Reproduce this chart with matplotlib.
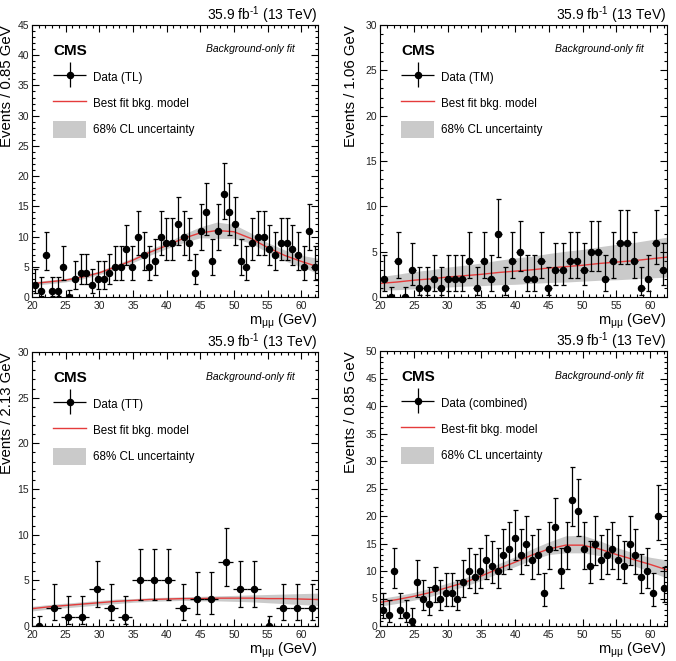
import math
import numpy as np
import matplotlib
matplotlib.use("Agg")
import matplotlib.pyplot as plt
from matplotlib.patches import Patch
from matplotlib.lines import Line2D
from matplotlib.container import ErrorbarContainer
from matplotlib.legend_handler import HandlerErrorbar
from matplotlib.ticker import MultipleLocator

plt.rcParams['font.family'] = ['Liberation Sans', 'DejaVu Sans']
plt.rcParams['mathtext.fontset'] = 'custom'
plt.rcParams['mathtext.rm'] = 'Liberation Sans'
plt.rcParams['mathtext.it'] = 'Liberation Sans:italic'

# ---- data ----
tl_counts = [2, 1, 7, 1, 1, 5, 0, 3, 4, 4, 2, 3, 3, 4, 5, 5, 8, 5, 10, 7,
             5, 6, 10, 9, 9, 12, 10, 9, 4, 11, 14, 6, 11, 17, 14, 12, 6, 5, 9, 10,
             10, 8, 7, 9, 9, 8, 7, 5, 11, 5]
tm_counts = [2, 0, 4, 0, 3, 1, 1, 2, 1, 2, 2, 2, 4, 1, 4, 2, 7, 1, 4, 5,
             2, 2, 4, 1, 3, 3, 4, 4, 3, 5, 5, 2, 4, 6, 6, 4, 1, 2, 6, 3]
tt_counts = [0, 2, 1, 1, 4, 2, 1, 5, 5, 5, 2, 3, 3, 7, 4, 4, 0, 2, 2, 2]
comb_counts = [3, 2, 10, 3, 2, 1, 8, 5, 4, 7, 5, 6, 6, 5, 8, 10, 9, 10, 12, 11,
               10, 13, 14, 16, 13, 15, 12, 13, 6, 14, 18, 10, 14, 23, 21, 14, 11, 15, 12, 13,
               14, 12, 11, 15, 13, 9, 10, 6, 20, 7]
bin_widths = [0.85, 1.06, 2.13, 0.85]

fit_x = [20, 22.5, 25, 27.5, 30, 32.5, 35, 37.5, 40, 42.5, 45, 47.5, 50, 52.5, 55, 57.5, 60, 62.5]

tl_fit = [2.2, 2.5, 2.8, 3.3, 4.0, 5.0, 6.1, 7.4, 8.5, 9.7, 10.6, 11.0, 10.8, 9.7, 8.2, 6.9, 5.9, 5.0]
tl_lo = [1.9, 2.2, 2.5, 3.0, 3.7, 4.6, 5.7, 6.9, 8.0, 9.0, 9.8, 9.7, 9.7, 8.9, 7.4, 6.0, 5.0, 3.9]
tl_hi = [2.5, 2.8, 3.1, 3.6, 4.3, 5.4, 6.5, 7.9, 9.0, 10.4, 11.6, 12.4, 12.0, 10.6, 9.0, 7.8, 6.9, 6.4]

tm_fit = [1.5, 1.65, 1.85, 2.0, 2.2, 2.35, 2.5, 2.7, 2.85, 3.0, 3.2, 3.35, 3.5, 3.7, 3.85, 4.0, 4.2, 4.4]
tm_lo = [0.75, 0.8, 0.9, 1.0, 1.1, 1.2, 1.25, 1.35, 1.4, 1.5, 1.6, 1.65, 1.75, 1.85, 1.9, 2.0, 2.1, 2.2]
tm_hi = [2.25, 2.5, 2.8, 3.0, 3.3, 3.5, 3.75, 4.05, 4.3, 4.5, 4.8, 5.05, 5.25, 5.55, 5.8, 6.0, 6.3, 6.6]

tt_fit = [1.9, 2.1, 2.25, 2.4, 2.55, 2.7, 2.8, 2.9, 2.95, 3.0, 3.0, 3.05, 3.05, 3.05, 3.0, 3.0, 2.95, 2.9]
tt_lo = [1.65, 1.85, 2.0, 2.15, 2.3, 2.45, 2.6, 2.7, 2.75, 2.8, 2.75, 2.75, 2.7, 2.65, 2.55, 2.45, 2.35, 2.25]
tt_hi = [2.15, 2.35, 2.5, 2.65, 2.8, 2.95, 3.0, 3.1, 3.15, 3.2, 3.25, 3.3, 3.35, 3.4, 3.45, 3.5, 3.55, 3.6]

comb_fit = [4.3, 4.8, 5.4, 6.1, 7.0, 7.9, 9.1, 10.4, 11.6, 12.9, 14.0, 14.7, 14.7, 14.0, 13.0, 12.1, 11.2, 10.2]
comb_lo = [3.6, 4.1, 4.7, 5.4, 6.3, 7.2, 8.3, 9.6, 10.8, 12.0, 13.0, 13.3, 13.3, 12.8, 12.0, 11.0, 9.9, 8.7]
comb_hi = [5.0, 5.5, 6.1, 6.9, 7.8, 8.7, 9.9, 11.3, 12.6, 14.0, 15.3, 16.4, 16.5, 15.5, 14.3, 13.3, 12.5, 12.0]

panels = [
    ("TL", tl_counts, tl_fit, tl_lo, tl_hi, 45, "Events / 0.85 GeV", "Data (TL)", "Best fit bkg. model"),
    ("TM", tm_counts, tm_fit, tm_lo, tm_hi, 30, "Events / 1.06 GeV", "Data (TM)", "Best fit bkg. model"),
    ("TT", tt_counts, tt_fit, tt_lo, tt_hi, 30, "Events / 2.13 GeV", "Data (TT)", "Best fit bkg. model"),
    ("comb", comb_counts, comb_fit, comb_lo, comb_hi, 50, "Events / 0.85 GeV", "Data (combined)", "Best-fit bkg. model"),
]


def pois_cdf(k, mu):
    if mu <= 0:
        return 1.0
    s = 0.0
    for i in range(k + 1):
        s += math.exp(-mu + i * math.log(mu) - math.lgamma(i + 1))
    return s


def solve(f, target, a, b, increasing):
    for _ in range(80):
        m = 0.5 * (a + b)
        if (f(m) < target) == increasing:
            a = m
        else:
            b = m
    return 0.5 * (a + b)


def pois_interval(n):
    # central poisson interval, one-sided for n = 0 (RooFit style)
    alpha = 1 - 0.682689
    if n == 0:
        return 0.0, -math.log(alpha)
    lo = solve(lambda mu: 1 - pois_cdf(n - 1, mu), alpha / 2, 0.0, float(n), True)
    hi = solve(lambda mu: pois_cdf(n, mu), alpha / 2, float(n), n + 40.0, False)
    return lo, hi


gray = "#cacaca"
red = "#e53b3b"

fig = plt.figure(figsize=(6.76, 6.61), dpi=100)
W, H = 676, 661
boxes = [(32, 25, 318, 297), (380, 25, 667, 297), (32, 352, 318, 626), (380, 351, 667, 626)]
ylab_x = [-0.063, -0.077, -0.063, -0.077]

for (name, counts, fit, lo, hi, ymax, ylab, dlab, flab), (x0, y0, x1, y1), bw, lx in zip(panels, boxes, bin_widths, ylab_x):
    ax = fig.add_axes([x0 / W, 1 - y1 / H, (x1 - x0) / W, (y1 - y0) / H])
    counts = np.array(counts)
    xc = 20 + (np.arange(len(counts)) + 0.5) * bw
    ints = np.array([pois_interval(int(n)) for n in counts])
    yerr = np.vstack([counts - ints[:, 0], ints[:, 1] - counts])
    yerr = np.clip(yerr, 0, None)

    ax.fill_between(fit_x, lo, hi, color=gray, lw=0, zorder=1)
    ax.plot(fit_x, fit, color=red, lw=1.0, zorder=2)
    eb = ax.errorbar(xc, counts, xerr=bw / 2, yerr=yerr, fmt='o', color='black', ms=4.4,
                     elinewidth=0.9, capsize=1.8, capthick=0.9, zorder=3, label=dlab)
    for c in eb[1]:
        if c.get_marker() == '|':
            c.set_visible(False)

    ax.set_xlim(20, 62.5)
    ax.set_ylim(0, ymax)
    ax.xaxis.set_major_locator(MultipleLocator(5))
    ax.xaxis.set_minor_locator(MultipleLocator(1))
    ax.yaxis.set_major_locator(MultipleLocator(5))
    ax.yaxis.set_minor_locator(MultipleLocator(1))
    ax.tick_params(which='both', direction='in', top=True, right=True, width=0.8,
                   labelsize=7.5, labelcolor='#222222')
    ax.tick_params(which='major', length=5)
    ax.tick_params(which='minor', length=2.5)
    ax.tick_params(axis='y', pad=2)
    ax.tick_params(axis='x', pad=3)
    for sp in ax.spines.values():
        sp.set_linewidth(0.8)

    ax.set_ylabel(ylab, loc='top', fontsize=10.8)
    ax.yaxis.set_label_coords(lx, 1.0)
    ax.set_xlabel(r'm$_{\mathrm{\mu\mu}}$ (GeV)', loc='right', fontsize=10.5)
    ax.xaxis.set_label_coords(1.0, -0.055)

    ax.text(1.0, 1.037, '35.9 fb$^{\\mathrm{\u2010}1}$ (13 TeV)', transform=ax.transAxes,
            ha='right', va='center', fontsize=10)
    ax.text(0.073, 0.905, 'CMS', transform=ax.transAxes, ha='left', va='center',
            fontsize=11, fontweight='bold')
    ax.text(0.92, 0.91, 'Background-only fit', transform=ax.transAxes, ha='right',
            va='center', fontsize=7.5, style='italic')

    handles = [eb, Line2D([], [], color=red, lw=1.0), Patch(facecolor=gray, edgecolor='none')]
    labels = [dlab, flab, '68% CL uncertainty']
    top = 1 - (68.5 - 25) / (y1 - y0)
    ax.legend(handles, labels, loc='upper left', bbox_to_anchor=(0.073, top),
              borderaxespad=0, borderpad=0, frameon=False, fontsize=8.4,
              handlelength=2.85, handleheight=1.8, handletextpad=0.55, labelspacing=0.85,
              handler_map={ErrorbarContainer: HandlerErrorbar(xerr_size=1.45, yerr_size=1.05)})

fig.savefig("out.png", dpi=100)
